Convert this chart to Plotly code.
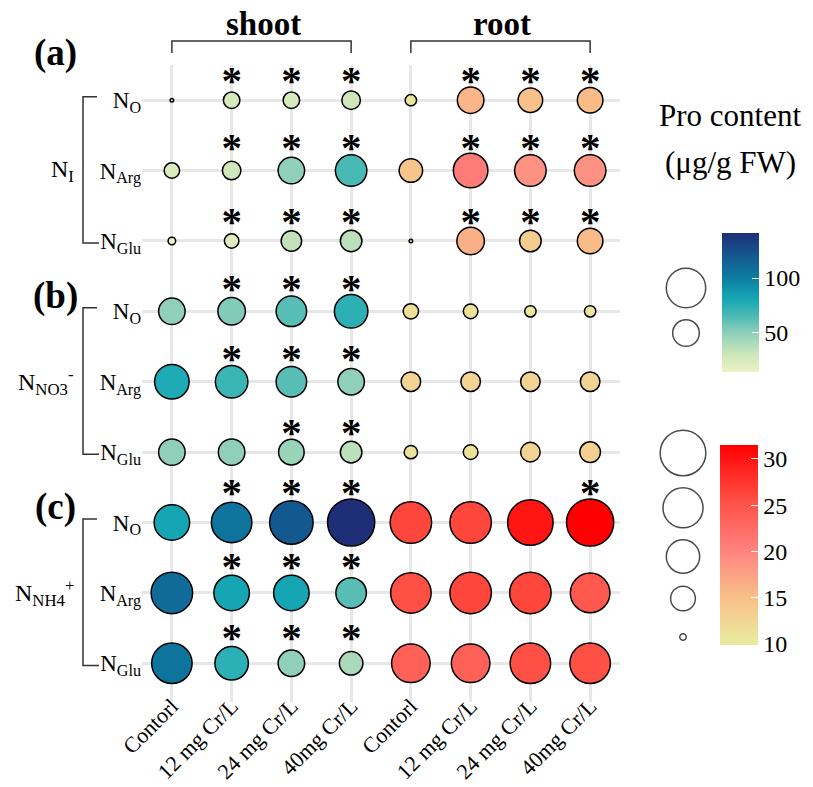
import numpy as np
import plotly.graph_objects as go

# ---------------- data ----------------
col_labels = ["Contorl", "12 mg Cr/L", "24 mg Cr/L", "40mg Cr/L",
              "Contorl", "12 mg Cr/L", "24 mg Cr/L", "40mg Cr/L"]
row_labels = ["N<sub>O</sub>", "N<sub>Arg</sub>", "N<sub>Glu</sub>"] * 3
group_labels = ["N<sub>I</sub>", "N<sub>NO3</sub><sup>-</sup>", "N<sub>NH4</sub><sup>+</sup>"]
panel_labels = ["(a)", "(b)", "(c)"]
tissue_labels = ["shoot", "root"]

# Pro content (ug/g FW), rows: (a) NO, NArg, NGlu, (b) ..., (c) ...
shoot_vals = [
    [14.5, 25.7, 25.7, 29.4],
    [24.0, 29.4, 49.5, 66.4],
    [15.6, 22.5, 33.6, 36.0],
    [49.5, 52.7, 62.8, 74.1],
    [78.2, 70.2, 62.8, 49.5],
    [49.5, 49.5, 46.6, 36.0],
    [82.3, 105.2, 120.5, 141.0],
    [110.1, 82.3, 82.3, 62.8],
    [105.2, 74.1, 49.5, 41.0],
]
root_vals = [
    [10.6, 15.9, 14.9, 15.4],
    [14.4, 20.8, 18.8, 18.8],
    [9.9, 16.4, 13.6, 15.4],
    [11.5, 11.3, 10.6, 10.6],
    [12.8, 12.8, 12.8, 12.8],
    [11.0, 11.3, 12.8, 13.2],
    [26.2, 26.2, 29.85, 31.5],
    [25.4, 26.2, 26.2, 24.6],
    [23.8, 23.8, 25.4, 25.4],
]
shoot_sig = [
    [0, 1, 1, 1], [0, 1, 1, 1], [0, 1, 1, 1],
    [0, 1, 1, 1], [0, 1, 1, 1], [0, 0, 1, 1],
    [0, 1, 1, 1], [0, 1, 1, 1], [0, 1, 1, 1],
]
root_sig = [
    [0, 1, 1, 1], [0, 1, 1, 1], [0, 1, 1, 1],
    [0, 0, 0, 0], [0, 0, 0, 0], [0, 0, 0, 0],
    [0, 0, 0, 1], [0, 0, 0, 0], [0, 0, 0, 0],
]
shoot_breaks = [100, 50]
root_breaks = [30, 25, 20, 15, 10]

# ---------------- styling ----------------
PAGE_OFF = 8                      # browser default body margin
W, H = 813 - PAGE_OFF, 787 - PAGE_OFF
FONT = "Liberation Serif"
LW = 1.5
D_MIN, D_MAX = 5.0, 48.7
ROW_PX = 70.4

blue_scale = [[0, "#eef1c4"], [0.12, "#cfe7bb"], [0.28, "#8fcfba"], [0.40, "#4dbab4"],
              [0.52, "#17a9b5"], [0.68, "#0d7ca0"], [0.83, "#145a91"], [1, "#1e2f78"]]
red_scale = [[0, "#e8ed9f"], [0.24, "#f9bf89"], [0.47, "#fe8380"],
             [0.72, "#ff5045"], [1, "#ff0000"]]


def X(px):
    return (px - PAGE_OFF) / W


def Y(py):
    return 1 - (py - PAGE_OFF) / H


def diam(v, lo, hi):
    v = np.asarray(v, dtype=float)
    return D_MIN + (D_MAX - D_MIN) * np.sqrt(np.clip((v - lo) / (hi - lo), 0, 1))


s_arr = np.array(shoot_vals)
r_arr = np.array(root_vals)
s_lo, s_hi = s_arr.min(), s_arr.max()
r_lo, r_hi = r_arr.min(), r_arr.max()

nrow = len(row_labels)
xs_s, ys_s, xs_r, ys_r = [], [], [], []
for i in range(nrow):
    for j in range(4):
        xs_s.append(j); ys_s.append(i)
        xs_r.append(j + 4); ys_r.append(i)

fig = go.Figure()

fig.add_trace(go.Scatter(
    x=xs_s, y=ys_s, mode="markers", xaxis="x", yaxis="y",
    marker=dict(size=diam(s_arr.flatten(), s_lo, s_hi) - LW,
                color=s_arr.flatten(), colorscale=blue_scale, cmin=s_lo, cmax=s_hi,
                line=dict(color="black", width=LW), opacity=1,
                colorbar=dict(x=X(722), xanchor="left", xpad=0,
                              y=Y(302.5), yanchor="middle", ypad=0,
                              len=139, lenmode="pixels", thickness=37,
                              tickvals=shoot_breaks, ticks="inside", ticklen=7,
                              tickcolor="white", tickwidth=1, outlinewidth=0,
                              tickfont=dict(family=FONT, size=24, color="black"))),
    hoverinfo="skip", showlegend=False))

fig.add_trace(go.Scatter(
    x=xs_r, y=ys_r, mode="markers", xaxis="x", yaxis="y",
    marker=dict(size=diam(r_arr.flatten(), r_lo, r_hi) - LW,
                color=r_arr.flatten(), colorscale=red_scale, cmin=r_lo, cmax=r_hi,
                line=dict(color="black", width=LW), opacity=1,
                colorbar=dict(x=X(720), xanchor="left", xpad=0,
                              y=Y(545), yanchor="middle", ypad=0,
                              len=200, lenmode="pixels", thickness=38,
                              tickvals=root_breaks, ticks="inside", ticklen=7,
                              tickcolor="white", tickwidth=1, outlinewidth=0,
                              tickfont=dict(family=FONT, size=24, color="black"))),
    hoverinfo="skip", showlegend=False))

# significance asterisks, placed above the row's largest bubble
row_max_d = np.maximum(diam(s_arr, s_lo, s_hi).max(axis=1), diam(r_arr, r_lo, r_hi).max(axis=1))
ax_x, ax_y = [], []
for i in range(nrow):
    off = (0.5 * row_max_d[i] + 13 - 11) / ROW_PX
    for j in range(4):
        if shoot_sig[i][j]:
            ax_x.append(j); ax_y.append(i - off)
        if root_sig[i][j]:
            ax_x.append(j + 4); ax_y.append(i - off)
fig.add_trace(go.Scatter(
    x=ax_x, y=ax_y, mode="text", text=["<b>*</b>"] * len(ax_x), xaxis="x", yaxis="y",
    textfont=dict(family=FONT, size=41, color="black"), textposition="middle center",
    hoverinfo="skip", showlegend=False, cliponaxis=False))

# size legends (pixel axis)
def stack(breaks, lo, hi, y0):
    d = diam(breaks, lo, hi)
    key = np.maximum(d, 28)
    ys = [y0]
    for k in range(1, len(d)):
        ys.append(ys[-1] + (key[k - 1] + key[k]) / 2 + 10.5)
    return d, ys

d_b, y_b = stack(shoot_breaks, s_lo, s_hi, 288)
d_r, y_r = stack(root_breaks, r_lo, r_hi, 453)
fig.add_trace(go.Scatter(
    x=[686] * len(d_b) + [683] * len(d_r), y=list(y_b) + list(y_r), mode="markers",
    xaxis="x2", yaxis="y2",
    marker=dict(size=np.concatenate([d_b, d_r]) - LW, color="rgba(0,0,0,0)",
                line=dict(color="black", width=LW)),
    hoverinfo="skip", showlegend=False))

grid = "#e7e7e7"
fig.update_layout(
    template="none",
    width=W, height=H, margin=dict(l=0, r=0, t=0, b=0, autoexpand=False),
    paper_bgcolor="white", plot_bgcolor="rgba(0,0,0,0)",
    font=dict(family=FONT, color="black"),
    xaxis=dict(domain=[X(142), X(620)], range=[-0.5, 7.5], tickvals=list(range(8)),
               ticktext=col_labels, tickangle=-45, showgrid=True, gridcolor=grid,
               gridwidth=2.5, zeroline=False, showline=False, ticks="", automargin=False,
               ticklabelstandoff=-14,
               tickfont=dict(family=FONT, size=22, color="black"), anchor="y"),
    yaxis=dict(domain=[Y(702), Y(65)], range=[8.55, -0.5], tickvals=list(range(nrow)),
               ticktext=row_labels, showgrid=True, gridcolor=grid, gridwidth=2.5,
               zeroline=False, showline=False, ticks="", automargin=False,
               tickfont=dict(family=FONT, size=23, color="black"), anchor="x"),
    xaxis2=dict(domain=[0, 1], range=[PAGE_OFF, W + PAGE_OFF], visible=False, anchor="y2", automargin=False),
    yaxis2=dict(domain=[0, 1], range=[H + PAGE_OFF, PAGE_OFF], visible=False, anchor="x2", automargin=False),
)

shapes = []
ann = []
# group brackets and labels on the left
for g in range(3):
    r0, r2 = 3 * g, 3 * g + 2
    shapes.append(dict(type="path", xref="paper", yref="y",
                       path=f"M {X(97)},{r0 - 0.05} L {X(83)},{r0 - 0.05} L {X(83)},{r2 + 0.03} L {X(99)},{r2 + 0.03}",
                       line=dict(color="#333333", width=1.5)))
    ann.append(dict(text=group_labels[g], xref="paper", yref="y", x=X(76), y=r0 + 1,
                    xanchor="right", yanchor="middle", showarrow=False,
                    font=dict(family=FONT, size=24, color="black")))
# panel labels
for g, py in enumerate([53, 296, 507]):
    ann.append(dict(text=f"<b>{panel_labels[g]}</b>", xref="paper", yref="paper",
                    x=X(55), y=Y(py), xanchor="center", yanchor="middle", showarrow=False,
                    font=dict(family=FONT, size=37, color="black")))
# tissue brackets + titles
for t in range(2):
    c0, c1 = 4 * t, 4 * t + 3
    shapes.append(dict(type="path", xref="x", yref="paper",
                       path=f"M {c0},{Y(53)} L {c0},{Y(41)} L {c1},{Y(41)} L {c1},{Y(53)}",
                       line=dict(color="#333333", width=1.5)))
    ann.append(dict(text=f"<b>{tissue_labels[t]}</b>", xref="x", yref="paper",
                    x=(c0 + c1) / 2 + 0.03, y=Y(24), xanchor="center", yanchor="middle",
                    height=32, valign="middle",
                    showarrow=False, font=dict(family=FONT, size=33, color="black")))
# legend title
ann.append(dict(text="Pro content", xref="paper", yref="paper", x=X(730), y=Y(115),
                xanchor="center", yanchor="middle", showarrow=False,
                font=dict(family=FONT, size=31, color="black")))
ann.append(dict(text="(μg/g FW)", xref="paper", yref="paper", x=X(730), y=Y(163),
                xanchor="center", yanchor="middle", showarrow=False,
                font=dict(family=FONT, size=31, color="black")))

fig.update_layout(shapes=shapes, annotations=ann)
fig.write_html("out.html")
